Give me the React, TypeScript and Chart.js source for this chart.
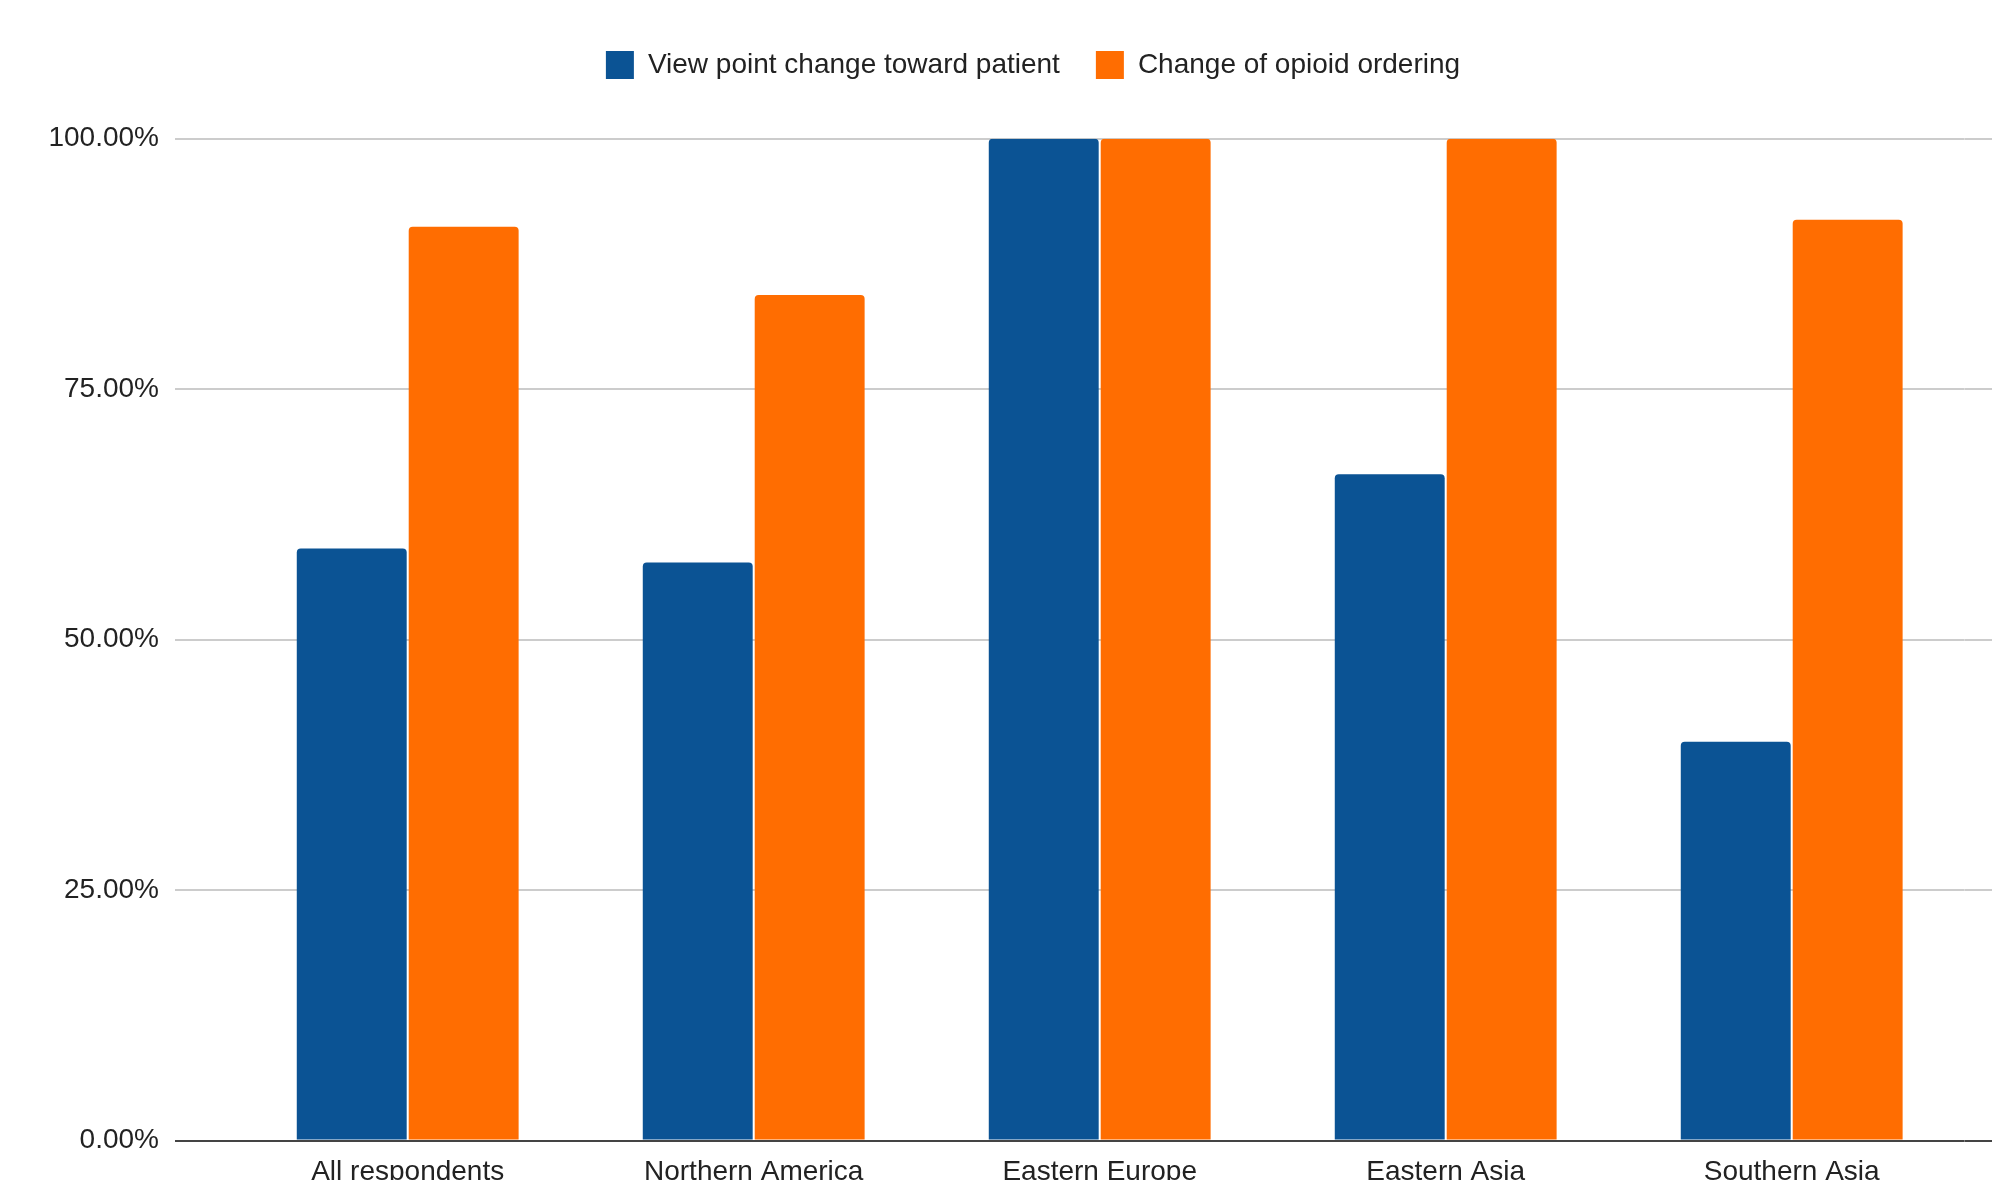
import React, { useEffect, useRef } from 'react';
import { Chart, registerables } from 'chart.js';

Chart.register(...registerables);

// Regions surveyed and the share of respondents reporting each change
const regions = ['All respondents', 'Northern America', 'Eastern Europe', 'Eastern Asia', 'Southern Asia'];
const viewpointChange = [0.591, 0.577, 1.0, 0.665, 0.398];
const opioidOrderingChange = [0.912, 0.844, 1.0, 1.0, 0.919];
const seriesNames = ['View point change toward patient', 'Change of opioid ordering'];
const seriesColors = ['#0b5394', '#ff6d01'];
const yTickValues = [0, 0.25, 0.5, 0.75, 1];

const FONT = "'Liberation Sans', Arial, sans-serif";
const TEXT = '#222222';
const GRID = '#cccccc';
const BASELINE = '#444444';

const gridColor = (ctx: any) => (ctx.tick && ctx.tick.value === 0 ? BASELINE : GRID);

export default function App() {
  const canvasRef = useRef<HTMLCanvasElement | null>(null);

  useEffect(() => {
    document.body.style.margin = '0';
    document.body.style.overflow = 'hidden';
    const canvas = canvasRef.current;
    if (!canvas) return;

    const chart = new Chart(canvas, {
      type: 'bar',
      data: {
        labels: regions,
        datasets: [
          {
            label: seriesNames[0],
            data: viewpointChange,
            backgroundColor: seriesColors[0],
            borderRadius: 4,
            borderSkipped: 'start',
            categoryPercentage: 0.647,
            barPercentage: 0.982,
          },
          {
            label: seriesNames[1],
            data: opioidOrderingChange,
            backgroundColor: seriesColors[1],
            borderRadius: 4,
            borderSkipped: 'start',
            categoryPercentage: 0.647,
            barPercentage: 0.982,
          },
        ],
      },
      options: {
        responsive: false,
        animation: false,
        devicePixelRatio: 1,
        // the plot runs on past the right edge, so the layout is wider than the canvas
        layout: { padding: { top: 15, left: 0, right: -74, bottom: 0 } },
        plugins: {
          legend: {
            position: 'top',
            align: 'center',
            labels: {
              boxWidth: 28,
              boxHeight: 28,
              padding: 36,
              color: TEXT,
              font: { family: FONT, size: 28 },
            },
          },
          // empty title used as the gap between the legend and the plot
          title: {
            display: true,
            text: '',
            weight: 500,
            padding: 0,
            font: { size: 49.7, lineHeight: 1 },
          },
          tooltip: { enabled: false },
        },
        scales: {
          x: {
            grid: { display: false, drawTicks: false },
            border: { display: false },
            ticks: {
              color: TEXT,
              font: { family: FONT, size: 28 },
              padding: 15,
              maxRotation: 0,
              autoSkip: false,
            },
            afterFit: (s: any) => {
              s.height = 39.5;
            },
          },
          y: {
            position: 'left',
            min: 0,
            max: 1,
            afterBuildTicks: (s: any) => {
              s.ticks = yTickValues.map((v) => ({ value: v }));
            },
            grid: {
              color: gridColor,
              lineWidth: 2,
              drawTicks: true,
              tickLength: 59.7,
            },
            border: { display: false },
            ticks: {
              color: TEXT,
              font: { family: FONT, size: 28 },
              padding: 16,
              callback: (v: any) => (Number(v) * 100).toFixed(2) + '%',
            },
            afterFit: (s: any) => {
              s.width = 234.7;
            },
          },
          yRight: {
            position: 'right',
            min: 0,
            max: 1,
            afterBuildTicks: (s: any) => {
              s.ticks = yTickValues.map((v) => ({ value: v }));
            },
            grid: {
              color: gridColor,
              lineWidth: 2,
              drawOnChartArea: false,
              drawTicks: true,
              tickLength: 101.3,
            },
            border: { display: false },
            ticks: { display: false },
            afterFit: (s: any) => {
              s.width = 101.3;
            },
          },
        },
      },
    });

    return () => chart.destroy();
  }, []);

  return (
    <div style={{ width: 1992, height: 1180, background: '#ffffff' }}>
      <canvas ref={canvasRef} width={1992} height={1180} style={{ display: 'block' }} />
    </div>
  );
}
